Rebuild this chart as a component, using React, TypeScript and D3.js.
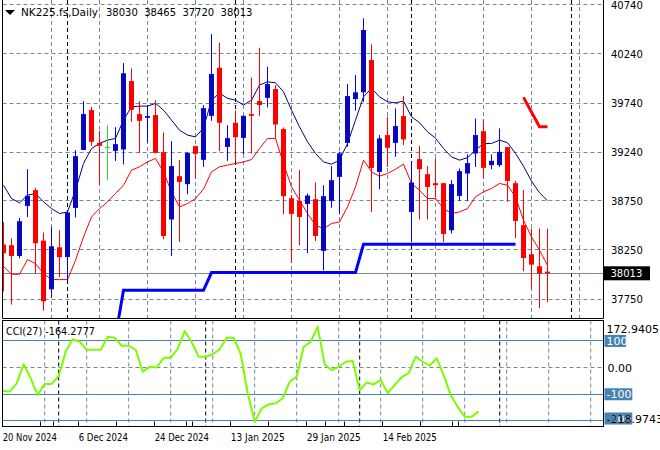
import React from 'react';
import * as d3 from 'd3';

// ---------- data ----------
const opens = [38305, 38298, 38189, 38697, 38857, 38345, 37850, 38277, 38179, 38677,
  39266, 39670, 39337, 39291, 39256, 39270, 39965, 39629, 39592, 39619,
  39243, 38559, 38999, 38918, 39304, 39165, 39612, 40100, 39297, 39541,
  39388, 39629, 39761, 39795, 39883, 39477, 38775, 38748, 38717, 38765,
  38240, 38748, 38992, 39337, 39782, 39850, 40178, 39043, 39416, 39337,
  39609, 38636, 39172, 39019, 38928, 38928, 38450, 38799, 39026, 39229,
  39456, 39111, 39111, 39294, 38928, 38501, 38206, 38084, 38030];
const highs = [38534, 38366, 38575, 39070, 38880, 38427, 38481, 38450, 38643, 39263,
  39761, 39703, 39459, 39517, 39497, 40147, 40094, 39761, 39721, 39771,
  39443, 39355, 39162, 39246, 39307, 39721, 40442, 40354, 39517, 39667,
  39619, 40000, 40303, 40110, 39924, 39494, 38806, 39060, 38823, 38935,
  38907, 39101, 39246, 39934, 40025, 40602, 40338, 39416, 39602, 39687,
  39812, 39144, 39304, 39101, 39179, 38931, 38958, 39077, 39220, 39585,
  39575, 39220, 39484, 39297, 38951, 38857, 38467, 38467, 38465];
const lows = [37830, 37695, 38166, 38585, 38010, 37634, 37762, 37976, 37942, 38579,
  39263, 39307, 38914, 38961, 39154, 39118, 39551, 39233, 39341, 39230,
  38359, 38189, 38331, 38816, 38976, 39093, 39561, 39253, 39154, 39154,
  39223, 39230, 39612, 39697, 39382, 38613, 38118, 38298, 38219, 38341,
  38044, 38677, 38613, 39297, 39663, 39754, 38636, 38867, 39093, 39195,
  39314, 38331, 38559, 38559, 38789, 38331, 38417, 38745, 38745, 39093,
  38976, 39070, 39093, 38738, 38372, 38033, 37850, 37660, 37720];
const closes = [38216, 38189, 38541, 38799, 38318, 37728, 38287, 38176, 38630, 39202,
  39629, 39348, 39307, 39291, 39324, 40043, 39673, 39561, 39609, 39236,
  38392, 39101, 38941, 39236, 39226, 39690, 40036, 39541, 39385, 39395,
  39612, 39612, 39721, 39934, 39524, 38796, 38616, 38585, 38803, 38392,
  38796, 38958, 39230, 39812, 39850, 40483, 39083, 39382, 39287, 39507,
  39372, 38935, 39070, 38890, 38907, 38413, 38918, 39050, 39131, 39416,
  39083, 39155, 39246, 38951, 38545, 38168, 38101, 38010, 38013];

// navy average line
const upperLine = [38907, 38772, 38728, 38806, 38823, 38738, 38671, 38620, 38636, 38857,
  39128, 39280, 39331, 39365, 39382, 39568, 39703, 39710, 39710, 39738,
  39670, 39568, 39466, 39416, 39398, 39487, 39771, 39843, 39789, 39771,
  39721, 39771, 39924, 39957, 39947, 39856, 39670, 39500, 39348, 39230,
  39144, 39121, 39162, 39331, 39568, 39805, 39890, 39805, 39754, 39744,
  39761, 39602, 39543, 39449, 39385, 39280, 39195, 39162, 39187, 39263,
  39331, 39331, 39365, 39339, 39230, 39101, 38948, 38831, 38750];
// red average line
const lowerLine = [38084, 38003, 38003, 38152, 38111, 38010, 37949, 37949, 37949, 38145,
  38382, 38585, 38670, 38738, 38823, 38907, 39060, 39094, 39144, 39179,
  39043, 38840, 38687, 38721, 38772, 38867, 39043, 39094, 39111, 39128,
  39144, 39168, 39280, 39382, 39382, 39128, 38890, 38755, 38620, 38501,
  38467, 38518, 38534, 38687, 38890, 39162, 39043, 38999, 39026, 39070,
  39121, 38925, 38857, 38772, 38772, 38670, 38620, 38636, 38670, 38789,
  38840, 38874, 38925, 38907, 38789, 38552, 38382, 38247, 38094];

// thick support line (starts at bar 14)
const supportStart = 14;
const supportValues = [37370,
  37840, 37840, 37840, 37840, 37840, 37840, 37840, 37840, 37840, 37840, 37840,
  38020, 38020, 38020, 38020, 38020, 38020, 38020, 38020, 38020, 38020,
  38020, 38020, 38020, 38020, 38020, 38020, 38020, 38020, 38020,
  38308, 38308, 38308, 38308, 38308, 38308, 38308, 38308, 38308, 38308,
  38308, 38308, 38308, 38308, 38308, 38308, 38308, 38308, 38308, 38308];
// thick resistance line (starts at bar 65)
const resistStart = 65;
const resistValues = [39799, 39649, 39500, 39500];

const cciValues = [-88, -90, -59, 13, -40, -103, -61, -61, -31, 60,
  106, 97, 67, 67, 67, 116, 112, 82, 82, 67,
  -15, 3, 0, 37, 37, 70, 137, 95, 41, 41,
  50, 69, 112, 112, 51, -96, -203, -153, -138, -134,
  -115, -53, -34, 78, 97, 153, 12, -9, 3, 22,
  25, -84, -56, -63, -46, -96, -65, -36, -21, 41,
  22, 7, 35, -28, -103, -147, -184, -184, -164.2777];

const priceTicks = [40740, 40240, 39740, 39240, 38750, 38250, 37750];
const cciMax = 172.9405;
const cciMin = -218.9743;
const cciLevels = [100, -100, -200];
const dateLabels = ['20 Nov 2024', '6 Dec 2024', '24 Dec 2024', '13 Jan 2025', '29 Jan 2025', '14 Feb 2025'];
const dateLabelBars = [0, 12, 24, 36, 48, 60];
const monthStartBars = [8, 29, 51, 71];
const symbol = 'NK225.fs,Daily';
const cciTitle = 'CCI(27)';

// ---------- layout ----------
const W = 660, H = 450;
const L = 2.5, R = 603.5, mainBottom = 318.5, cciTop = 320.5, cciBottom = 426.5;
const FONT = "'DejaVu Sans', Verdana, sans-serif";
const GRID = '#778899';

const n = closes.length;
const xMain = d3.scaleLinear().domain([0, n - 1]).range([3.5, 3.5 + 8 * (n - 1)]);
const yMain = d3.scaleLinear().domain([37750, 40740]).range([299.2, 4.7]);
const xCci = d3.scaleLinear().domain([0, n - 1]).range([2.7, 2.7 + 7 * (n - 1)]);
const yCci = d3.scaleLinear().domain([cciMin, cciMax]).range([426, 321.5]);
const xAxis = d3.scaleLinear().domain([0, 72]).range([2.7, 458.7]);

const crisp = (v: number) => Math.round(v - 0.5) + 0.5;

export default function App() {
  const lineMain = d3.line<number>().x((_, i) => xMain(i)).y(v => yMain(v));
  const supportPath = d3.line<number>().x((_, i) => xMain(i + supportStart)).y(v => yMain(v))(supportValues) || '';
  const resistPath = d3.line<number>().x((_, i) => xMain(i + resistStart)).y(v => yMain(v))(resistValues) || '';
  const cciPath = d3.line<number>().x((_, i) => xCci(i)).y(v => yCci(v))(cciValues) || '';
  const last = closes[n - 1];
  const lastY = yMain(last);
  const ohlc = [opens[n - 1], highs[n - 1], lows[n - 1], closes[n - 1]];

  const mainVGrid: number[] = [];
  for (let k = 1; xMain(6 * k) < R; k++) mainVGrid.push(xMain(6 * k));
  const cciVGrid: number[] = [];
  for (let k = 1; xCci(6 * k) < R; k++) cciVGrid.push(xCci(6 * k));
  const axisTicks: number[] = [];
  for (let b = 0; b <= 72; b += 6) axisTicks.push(b);

  return (
    <div style={{ position: 'absolute', left: 0, top: 0, width: W, height: H, background: '#fff' }}>
      <svg width={W} height={H} style={{ display: 'block', fontFamily: FONT }}>
        <defs>
          <clipPath id="mainClip"><rect x={L} y={0} width={R - L} height={mainBottom} /></clipPath>
          <clipPath id="cciClip"><rect x={L} y={cciTop} width={R - L} height={cciBottom - cciTop} /></clipPath>
        </defs>
        <rect x={0} y={0} width={W} height={H} fill="#fff" />

        {/* ---- main panel grid ---- */}
        <g clipPath="url(#mainClip)">
          {priceTicks.map(t => (
            <line key={t} x1={L} x2={R} y1={crisp(yMain(t))} y2={crisp(yMain(t))} stroke={GRID} strokeDasharray="4,3" />
          ))}
          {mainVGrid.map(x => (
            <line key={x} x1={x} x2={x} y1={0} y2={mainBottom} stroke={GRID} strokeDasharray="4,3" />
          ))}
          {monthStartBars.map(b => (
            <line key={b} x1={xMain(b)} x2={xMain(b)} y1={0} y2={mainBottom} stroke="#000" strokeDasharray="4,3" />
          ))}
          <line x1={L} x2={R} y1={crisp(lastY)} y2={crisp(lastY)} stroke={GRID} />

          {/* thick support / resistance */}
          <path d={supportPath} fill="none" stroke="#0000ff" strokeWidth={3} />
          <path d={resistPath} fill="none" stroke="#ff0000" strokeWidth={3} />

          {/* average lines */}
          <path d={lineMain(upperLine) || ''} fill="none" stroke="#000080" strokeWidth={1} />
          <path d={lineMain(lowerLine) || ''} fill="none" stroke="#ff0000" strokeWidth={1} />

          {/* candles */}
          {opens.map((o, i) => {
            const c = closes[i];
            const cx = xMain(i);
            const up = c > o, dn = c < o;
            const col = up ? '#0000ff' : dn ? '#ff0000' : '#22dd22';
            const yTop = yMain(Math.max(o, c));
            const yBot = yMain(Math.min(o, c));
            const bh = Math.max(1, yBot - yTop);
            return (
              <g key={i}>
                <line x1={cx} x2={cx} y1={yMain(highs[i])} y2={yMain(lows[i])} stroke={col} strokeWidth={1} />
                {up ? (
                  <rect x={cx - 2} y={yTop + 0.5} width={4} height={Math.max(bh - 1, 0.5)} fill="#0a0c9e" stroke="#0000ff" strokeWidth={1} />
                ) : dn ? (
                  <rect x={cx - 2.5} y={yTop} width={5} height={bh} fill="#ff0000" />
                ) : (
                  <line x1={cx - 2.5} x2={cx + 2.5} y1={yTop} y2={yTop} stroke={col} strokeWidth={1} />
                )}
              </g>
            );
          })}
        </g>

        {/* main panel border */}
        <line x1={L} x2={L} y1={0} y2={mainBottom} stroke="#000" />
        <line x1={R} x2={R} y1={0} y2={mainBottom} stroke="#000" />
        <line x1={L} x2={R} y1={mainBottom} y2={mainBottom} stroke="#000" />

        {/* header */}
        <polygon points="5,10 15,10 10,15" fill="#000" />
        <text x={21} y={15.5} fontSize={10} fill="#000" textLength={77} lengthAdjust="spacingAndGlyphs">{symbol}</text>
        {ohlc.map((v, k) => (
          <text key={k} x={106 + k * 38.2} y={15.5} fontSize={10} fill="#000">{v}</text>
        ))}

        {/* main price labels */}
        {priceTicks.map(t => (
          <text key={t} x={611} y={yMain(t) + 4} fontSize={10} fill="#000">{t}</text>
        ))}
        <rect x={604} y={lastY - 7} width={46} height={14} fill="#000" />
        <text x={610.5} y={lastY + 4} fontSize={10} fill="#fff">{last}</text>

        {/* ---- CCI panel ---- */}
        <g clipPath="url(#cciClip)">
          {cciVGrid.map(x => (
            <line key={x} x1={x} x2={x} y1={cciTop} y2={cciBottom} stroke={GRID} strokeDasharray="4,3" />
          ))}
          {monthStartBars.map(b => (
            <line key={b} x1={xCci(b)} x2={xCci(b)} y1={cciTop} y2={cciBottom} stroke="#000" strokeDasharray="4,3" />
          ))}
          <line x1={L} x2={R} y1={crisp(yCci(0))} y2={crisp(yCci(0))} stroke={GRID} strokeDasharray="4,3" />
          {cciLevels.map(v => (
            <line key={v} x1={L} x2={R} y1={crisp(yCci(v))} y2={crisp(yCci(v))} stroke="#4682b4" />
          ))}
          <path d={cciPath} fill="none" stroke="#7cfc00" strokeWidth={2} strokeLinejoin="round" />
          {axisTicks.map(b => (
            <line key={'t' + b} x1={crisp(xAxis(b))} x2={crisp(xAxis(b))} y1={421.5} y2={cciBottom} stroke="#000" />
          ))}
          {monthStartBars.map(b => (
            <line key={'m' + b} x1={crisp(xAxis(b))} x2={crisp(xAxis(b))} y1={421.5} y2={cciBottom} stroke="#000" />
          ))}
        </g>
        <rect x={L} y={cciTop} width={R - L} height={cciBottom - cciTop} fill="none" stroke="#000" />
        <text x={6} y={335} fontSize={10} fill="#000" textLength={89} lengthAdjust="spacingAndGlyphs">
          {`${cciTitle} ${cciValues[n - 1].toFixed(4)}`}
        </text>

        {/* CCI labels */}
        <text x={606.5} y={333} fontSize={11} fill="#000">{cciMax.toFixed(4)}</text>
        {cciLevels.map(v => {
          const yc = Math.min(yCci(v), 418.5);
          const label = String(v);
          return (
            <g key={v}>
              <rect x={604.5} y={yc - 6} width={label.length * 6.2 + 3} height={12} fill="#4682b4" />
              <text x={606.5} y={yc + 4} fontSize={11} fill="#fff">{label}</text>
            </g>
          );
        })}
        <text x={607.5} y={yCci(0) + 4} fontSize={11} fill="#000">{(0).toFixed(2)}</text>
        <text x={606.5} y={422.5} fontSize={11} fill="#000">{cciMin.toFixed(4)}</text>

        {/* date labels */}
        {dateLabels.map((d, i) => (
          <text key={d} x={xAxis(dateLabelBars[i])} y={441} fontSize={10} fill="#000"
            textLength={d.length * 4.92} lengthAdjust="spacingAndGlyphs">{d}</text>
        ))}
      </svg>
    </div>
  );
}
